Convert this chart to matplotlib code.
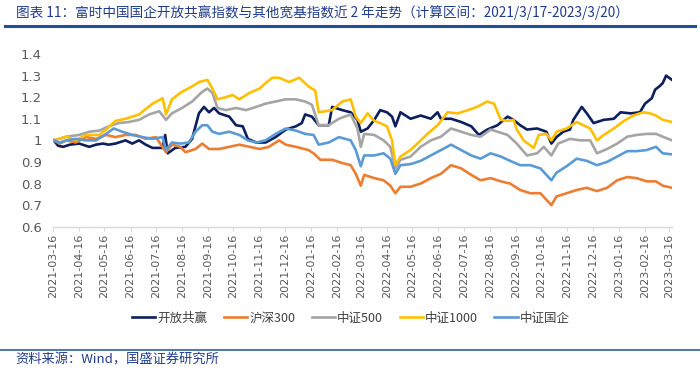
import numpy                 as     np
import pandas                as     pd
import matplotlib
matplotlib.use('Agg')
import matplotlib.pyplot     as     plt
import matplotlib.dates      as     mdates

from   matplotlib.lines      import Line2D
from   matplotlib.ticker     import FuncFormatter, MultipleLocator

plt.rcParams['font.family'] = ['Noto Sans CJK SC', 'DejaVu Sans']

## -- Data, (date, index level normalised to 1).
kfgy    = [("2021-03-17",1.0),("2021-03-22",0.975),("2021-03-28",0.97),("2021-04-05",0.98),("2021-04-16",0.985),
           ("2021-04-28",0.97),("2021-05-06",0.98),("2021-05-14",0.985),("2021-05-21",0.98),("2021-05-29",0.985),
           ("2021-06-10",1.0),("2021-06-18",0.985),("2021-06-26",1.0),("2021-07-04",0.98),("2021-07-12",0.965),
           ("2021-07-24",0.965),("2021-07-27",1.025),("2021-07-30",0.94),("2021-08-08",0.965),("2021-08-20",0.97),
           ("2021-08-28",1.007),("2021-09-05",1.125),("2021-09-11",1.155),("2021-09-17",1.13),("2021-09-23",1.15),
           ("2021-09-29",1.125),("2021-10-11",1.11),("2021-10-19",1.07),("2021-10-27",1.065),("2021-11-02",1.007),
           ("2021-11-12",0.99),("2021-11-23",0.99),("2021-12-05",1.015),("2021-12-17",1.05),("2021-12-29",1.065),
           ("2022-01-05",1.08),("2022-01-09",1.12),("2022-01-17",1.11),("2022-01-25",1.07),("2022-02-06",1.07),
           ("2022-02-10",1.155),("2022-02-22",1.14),("2022-03-04",1.13),("2022-03-12",1.095),("2022-03-16",1.04),
           ("2022-03-24",1.055),("2022-04-01",1.095),("2022-04-08",1.14),("2022-04-16",1.13),("2022-04-22",1.11),
           ("2022-04-26",1.065),("2022-05-02",1.13),("2022-05-14",1.10),("2022-05-26",1.115),("2022-06-07",1.10),
           ("2022-06-15",1.13),("2022-06-19",1.10),("2022-07-01",1.10),("2022-07-13",1.085),("2022-07-25",1.065),
           ("2022-08-03",1.025),("2022-08-13",1.05),("2022-08-25",1.07),("2022-09-06",1.11),("2022-09-13",1.095),
           ("2022-09-21",1.07),("2022-09-29",1.05),("2022-10-11",1.055),("2022-10-22",1.04),("2022-10-28",0.985),
           ("2022-11-03",1.015),("2022-11-11",1.04),("2022-11-19",1.05),("2022-11-23",1.095),("2022-12-03",1.155),
           ("2022-12-09",1.125),("2022-12-17",1.08),("2022-12-29",1.095),("2023-01-10",1.10),("2023-01-18",1.13),
           ("2023-01-30",1.125),("2023-02-10",1.13),("2023-02-16",1.17),("2023-02-24",1.195),("2023-02-28",1.235),
           ("2023-03-05",1.25),("2023-03-09",1.265),("2023-03-13",1.30),("2023-03-20",1.28)]

hs300   = [("2021-03-17",1.0),("2021-03-24",0.985),("2021-04-01",1.0),("2021-04-12",0.99),("2021-04-24",1.015),
           ("2021-05-06",1.007),("2021-05-18",1.025),("2021-05-29",1.015),("2021-06-10",1.025),("2021-06-22",1.025),
           ("2021-07-04",1.007),("2021-07-16",1.015),("2021-07-28",0.945),("2021-08-04",0.98),("2021-08-14",0.97),
           ("2021-08-20",0.945),("2021-09-01",0.96),("2021-09-09",0.985),("2021-09-17",0.96),("2021-09-29",0.96),
           ("2021-10-11",0.97),("2021-10-23",0.98),("2021-11-04",0.97),("2021-11-16",0.96),("2021-11-27",0.97),
           ("2021-12-09",1.0),("2021-12-17",0.98),("2021-12-29",0.97),("2022-01-13",0.955),("2022-01-19",0.94),
           ("2022-01-27",0.91),("2022-02-10",0.91),("2022-02-22",0.895),("2022-03-04",0.885),("2022-03-10",0.845),
           ("2022-03-16",0.79),("2022-03-20",0.84),("2022-04-01",0.825),("2022-04-12",0.815),("2022-04-20",0.79),
           ("2022-04-26",0.755),("2022-05-02",0.785),("2022-05-14",0.785),("2022-05-26",0.80),("2022-06-07",0.825),
           ("2022-06-19",0.845),("2022-07-01",0.885),("2022-07-13",0.87),("2022-07-25",0.84),("2022-08-05",0.815),
           ("2022-08-17",0.825),("2022-08-29",0.81),("2022-09-09",0.80),("2022-09-21",0.77),("2022-10-03",0.755),
           ("2022-10-15",0.755),("2022-10-22",0.725),("2022-10-28",0.70),("2022-11-03",0.74),("2022-11-15",0.755),
           ("2022-11-27",0.77),("2022-12-09",0.78),("2022-12-21",0.765),("2023-01-02",0.78),("2023-01-14",0.815),
           ("2023-01-26",0.83),("2023-02-06",0.825),("2023-02-18",0.81),("2023-03-01",0.81),("2023-03-09",0.79),
           ("2023-03-20",0.78)]

zz500   = [("2021-03-17",1.0),("2021-04-01",1.017),("2021-04-16",1.025),("2021-04-28",1.04),("2021-05-10",1.045),
           ("2021-05-21",1.065),("2021-06-02",1.08),("2021-06-14",1.085),("2021-06-26",1.095),("2021-07-08",1.12),
           ("2021-07-20",1.135),("2021-07-28",1.095),("2021-08-04",1.125),("2021-08-16",1.15),("2021-08-28",1.18),
           ("2021-09-09",1.225),("2021-09-15",1.24),("2021-09-21",1.22),("2021-09-27",1.15),("2021-10-07",1.14),
           ("2021-10-19",1.15),("2021-10-31",1.14),("2021-11-12",1.155),("2021-11-23",1.17),("2021-12-05",1.18),
           ("2021-12-17",1.19),("2021-12-29",1.19),("2022-01-09",1.18),("2022-01-17",1.165),("2022-01-25",1.07),
           ("2022-02-06",1.07),("2022-02-18",1.10),("2022-03-04",1.12),("2022-03-12",1.055),("2022-03-16",0.97),
           ("2022-03-20",1.03),("2022-04-01",1.025),("2022-04-12",1.0),("2022-04-20",0.97),("2022-04-26",0.87),
           ("2022-05-02",0.91),("2022-05-14",0.925),("2022-05-26",0.97),("2022-06-07",1.0),("2022-06-19",1.017),
           ("2022-07-01",1.055),("2022-07-13",1.04),("2022-07-25",1.025),("2022-08-05",1.017),("2022-08-17",1.05),
           ("2022-08-25",1.04),("2022-09-06",1.025),("2022-09-17",0.985),("2022-09-29",0.93),("2022-10-11",0.94),
           ("2022-10-19",0.97),("2022-10-28",0.93),("2022-11-05",0.985),("2022-11-19",1.007),("2022-12-01",1.0),
           ("2022-12-13",1.0),("2022-12-21",0.94),("2023-01-02",0.96),("2023-01-14",0.985),("2023-01-26",1.017),
           ("2023-02-06",1.025),("2023-02-18",1.03),("2023-03-01",1.03),("2023-03-09",1.017),("2023-03-20",1.0)]

zz1000  = [("2021-03-17",1.0),("2021-04-01",1.017),("2021-04-12",1.0),("2021-04-24",1.025),("2021-05-10",1.025),
           ("2021-05-18",1.05),("2021-05-29",1.09),("2021-06-10",1.10),("2021-06-26",1.12),("2021-07-12",1.17),
           ("2021-07-24",1.195),("2021-07-28",1.12),("2021-08-04",1.19),("2021-08-16",1.225),("2021-08-28",1.25),
           ("2021-09-05",1.27),("2021-09-15",1.28),("2021-09-21",1.24),("2021-09-27",1.19),("2021-10-07",1.20),
           ("2021-10-15",1.21),("2021-10-23",1.19),("2021-11-04",1.22),("2021-11-16",1.24),("2021-11-23",1.265),
           ("2021-12-01",1.29),("2021-12-09",1.29),("2021-12-21",1.27),("2022-01-02",1.29),("2022-01-13",1.25),
           ("2022-01-21",1.23),("2022-01-25",1.13),("2022-02-10",1.14),("2022-02-22",1.18),("2022-03-04",1.19),
           ("2022-03-10",1.11),("2022-03-16",1.08),("2022-03-24",1.125),("2022-04-01",1.09),("2022-04-08",1.08),
           ("2022-04-16",1.065),("2022-04-22",1.0),("2022-04-26",0.886),("2022-05-02",0.925),("2022-05-14",0.955),
           ("2022-05-22",0.985),("2022-06-03",1.03),("2022-06-15",1.07),("2022-06-27",1.13),("2022-07-09",1.125),
           ("2022-07-21",1.14),("2022-08-01",1.155),("2022-08-13",1.18),("2022-08-21",1.17),("2022-08-29",1.095),
           ("2022-09-06",1.09),("2022-09-13",1.095),("2022-09-17",1.05),("2022-09-25",1.0),("2022-10-07",0.965),
           ("2022-10-13",1.025),("2022-10-22",1.03),("2022-10-28",1.0),("2022-11-03",1.04),("2022-11-15",1.055),
           ("2022-11-27",1.085),("2022-12-05",1.07),("2022-12-13",1.055),("2022-12-21",1.0),("2022-12-29",1.025),
           ("2023-01-10",1.055),("2023-01-22",1.09),("2023-02-02",1.115),("2023-02-14",1.13),("2023-02-22",1.125),
           ("2023-03-01",1.115),("2023-03-09",1.095),("2023-03-20",1.085)]

zzgq    = [("2021-03-17",1.0),("2021-03-24",0.99),("2021-04-01",1.0),("2021-04-12",1.007),("2021-04-24",1.0),
           ("2021-05-06",1.0),("2021-05-18",1.03),("2021-05-27",1.055),("2021-06-06",1.04),("2021-06-18",1.025),
           ("2021-06-30",1.015),("2021-07-12",1.007),("2021-07-24",1.015),("2021-07-28",0.955),("2021-08-04",0.99),
           ("2021-08-14",0.985),("2021-08-24",0.99),("2021-09-01",1.04),("2021-09-09",1.07),("2021-09-15",1.07),
           ("2021-09-21",1.04),("2021-09-29",1.03),("2021-10-11",1.04),("2021-10-23",1.025),("2021-11-02",1.0),
           ("2021-11-12",0.99),("2021-11-23",1.0),("2021-12-05",1.03),("2021-12-17",1.055),("2021-12-29",1.045),
           ("2022-01-09",1.03),("2022-01-19",1.025),("2022-01-25",0.98),("2022-02-06",0.99),("2022-02-18",1.015),
           ("2022-03-04",1.0),("2022-03-10",0.955),("2022-03-16",0.88),("2022-03-20",0.93),("2022-04-01",0.93),
           ("2022-04-12",0.94),("2022-04-20",0.915),("2022-04-26",0.845),("2022-05-02",0.885),("2022-05-14",0.89),
           ("2022-05-26",0.905),("2022-06-07",0.93),("2022-06-19",0.955),("2022-07-01",0.98),("2022-07-13",0.955),
           ("2022-07-25",0.93),("2022-08-05",0.915),("2022-08-17",0.94),("2022-08-29",0.925),("2022-09-09",0.905),
           ("2022-09-21",0.885),("2022-10-03",0.885),("2022-10-15",0.87),("2022-10-28",0.815),("2022-11-03",0.85),
           ("2022-11-15",0.88),("2022-11-27",0.915),("2022-12-09",0.905),("2022-12-21",0.885),("2023-01-02",0.90),
           ("2023-01-14",0.925),("2023-01-26",0.95),("2023-02-06",0.95),("2023-02-18",0.955),("2023-03-01",0.97),
           ("2023-03-09",0.94),("2023-03-20",0.935)]

labels  = ['开放共赢', '沪深300', '中证500', '中证1000', '中证国企']
colors  = ['#0D1F5C', '#ED7D31', '#A5A5A5', '#FFC000', '#5B9BD5']

title   = '图表 11：富时中国国企开放共赢指数与其他宽基指数近 2 年走势（计算区间：2021/3/17-2023/3/20）'
source  = '资料来源：Wind，国盛证券研究所'

navy    = '#203C8C'

##
fig     = plt.figure(figsize=(7.0, 3.71), dpi=100)
ax      = fig.add_axes([53/700, 1 - 226.7/371, 619/700, 172.7/371])

for series, label, color in zip([kfgy, hs300, zz500, zz1000, zzgq], labels, colors):
    dat = pd.DataFrame(series, columns=['date', 'value'])
    dat['date'] = pd.to_datetime(dat['date'])

    ax.plot(dat['date'], dat['value'], color=color, lw=1.9, label=label, solid_joinstyle='round')

ax.set_ylim(0.6, 1.4)
ax.set_xlim(pd.Timestamp('2021-03-16'), pd.Timestamp('2023-03-20'))

ax.yaxis.set_major_locator(MultipleLocator(0.1))
ax.yaxis.set_major_formatter(FuncFormatter(lambda v, p: '{:g}'.format(round(v, 2))))

ax.xaxis.set_major_locator(mdates.MonthLocator(bymonthday=16))
ax.xaxis.set_major_formatter(mdates.DateFormatter('%Y-%m-%d'))

for side in ['left', 'top', 'right']:
    ax.spines[side].set_visible(False)

ax.spines['bottom'].set_color('#D9D9D9')
ax.spines['bottom'].set_linewidth(1.0)

ax.tick_params(axis='y', length=0, pad=8, labelsize=9.5, labelcolor='#595959')
ax.tick_params(axis='x', length=3, color='#D9D9D9', pad=2, labelsize=8, labelcolor='#595959', labelrotation=90)

for lab in ax.get_yticklabels() + ax.get_xticklabels():
    lab.set_family('DejaVu Sans')

## -- Legend, title & footer.
fig.legend(loc='center', bbox_to_anchor=(351/700, 1 - 318/371), ncol=5, frameon=False,
           fontsize=9, handlelength=1.85, handletextpad=0.2, columnspacing=1.3, labelcolor='#404040')

fig.text(16/700, 1 - 13/371, title, fontsize=9.8, color=navy, style='italic', weight='light',
         va='center', ha='left')
fig.add_artist(Line2D([5/700, 695/700], [1 - 26/371] * 2, transform=fig.transFigure, color='#1F4E9A', lw=2.2))

fig.add_artist(Line2D([0/700, 700/700], [1 - 350/371] * 2, transform=fig.transFigure, color='#1F4E9A', lw=1.1))
fig.text(15/700, 1 - 360/371, source, fontsize=9.5, color=navy, style='italic', weight='light',
         va='center', ha='left')

plt.savefig('out.png', dpi=100)
